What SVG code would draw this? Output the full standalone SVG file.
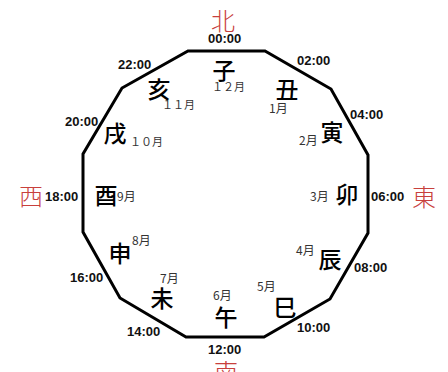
<svg xmlns="http://www.w3.org/2000/svg" width="448" height="372" viewBox="0 0 448 372">
<style>
.dial{fill:none;stroke:#000;stroke-width:3;stroke-linejoin:miter}
.br{font-family:"Noto Sans CJK JP","Noto Sans CJK SC",sans-serif;font-size:23px;font-weight:500;fill:#000;text-anchor:middle;dominant-baseline:central}
.dir{font-family:"Noto Sans CJK JP","Noto Sans CJK SC",sans-serif;font-size:24px;font-weight:300;fill:#c8403c;text-anchor:middle;dominant-baseline:central}
.tm{font-family:"Liberation Sans",Arial,sans-serif;font-size:13px;font-weight:bold;fill:#111}
.mo{font-family:"Noto Sans CJK JP","Noto Sans CJK SC",sans-serif;font-size:12px;fill:#333}
.mf{font-size:11px}
</style>
<rect width="448" height="372" fill="#fff"/>
<g id="dial">
<polygon class="dial" points="188,51 265,51 331,89 368,155 368,233 330,299 264,337 186,337 120,298 83,232 83,154 122,88"/>
</g>
<g id="connectors"></g>
<g id="directions">
<text class="dir" x="223" y="19">北</text>
<text class="dir" x="424" y="195">東</text>
<text class="dir" x="226" y="370">南</text>
<text class="dir" x="31" y="194">西</text>
</g>
<g id="times">
<text class="tm" x="208" y="43">00:00</text>
<text class="tm" x="297" y="65">02:00</text>
<text class="tm" x="350" y="119">04:00</text>
<text class="tm" x="371" y="201">06:00</text>
<text class="tm" x="354" y="272">08:00</text>
<text class="tm" x="297" y="332">10:00</text>
<text class="tm" x="208" y="354">12:00</text>
<text class="tm" x="127" y="336">14:00</text>
<text class="tm" x="70" y="282">16:00</text>
<text class="tm" x="45" y="201">18:00</text>
<text class="tm" x="65" y="126">20:00</text>
<text class="tm" x="118" y="69">22:00</text>
</g>
<g id="ne"><text class="br" x="224" y="69">子</text><text class="mo mf" x="212" y="91">１２月</text></g>
<g id="ushi"><text class="br" x="287" y="88">丑</text><text class="mo" x="269" y="113">1月</text></g>
<g id="tora"><text class="br" x="332" y="131">寅</text><text class="mo" x="299" y="145">2月</text></g>
<g id="u"><text class="br" x="347" y="193">卯</text><text class="mo" x="310" y="201">3月</text></g>
<g id="tatsu"><text class="br" x="330" y="258">辰</text><text class="mo" x="296" y="255">4月</text></g>
<g id="mi"><text class="br" x="285" y="306">巳</text><text class="mo" x="257" y="291">5月</text></g>
<g id="uma"><text class="br" x="226" y="316">午</text><text class="mo" x="213" y="300">6月</text></g>
<g id="hitsuji"><text class="br" x="162" y="297">未</text><text class="mo" x="160" y="283">7月</text></g>
<g id="saru"><text class="br" x="120" y="252">申</text><text class="mo" x="132" y="245">8月</text></g>
<g id="tori"><text class="br" x="106" y="194">酉</text><text class="mo" x="117" y="201">9月</text></g>
<g id="inu"><text class="br" x="115" y="132">戌</text><text class="mo mf" x="130" y="146">１０月</text></g>
<g id="i"><text class="br" x="159" y="88">亥</text><text class="mo mf" x="162" y="109">１１月</text></g>
</svg>
